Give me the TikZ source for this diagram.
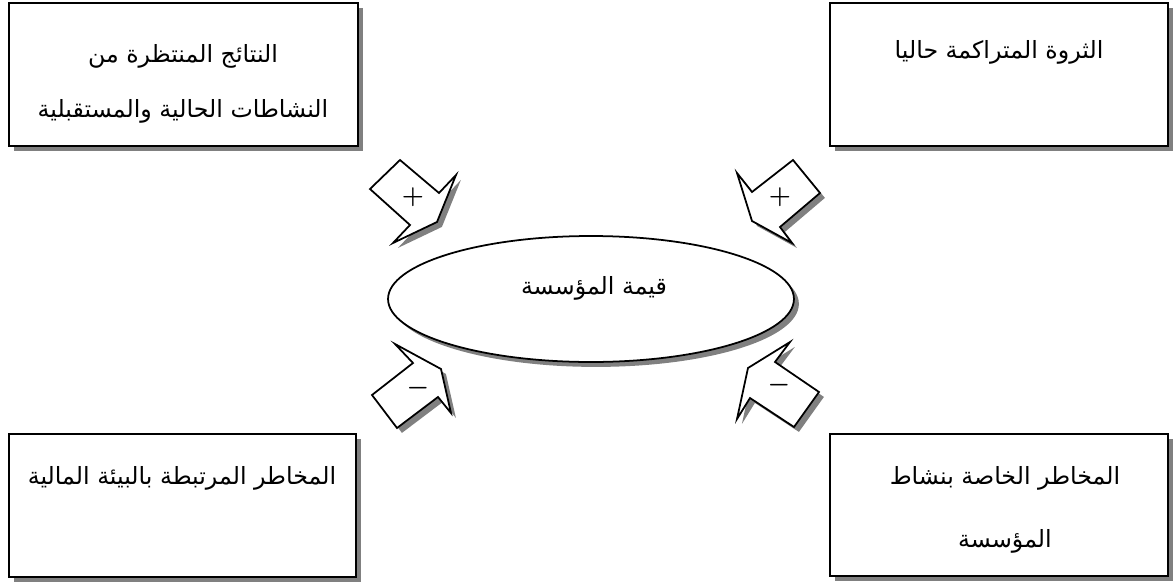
\documentclass[tikz,border=0pt]{standalone}
\usepackage{fontspec}
\usepackage{tikz}
\usetikzlibrary{shapes.geometric,shadows}
\newfontfamily\arabicfont[Script=Arabic]{DejaVu Sans}
\TeXXeTstate=1
\pgfdeclarelayer{edgelayer}
\pgfdeclarelayer{nodelayer}
\pgfsetlayers{edgelayer,nodelayer,main}
\tikzstyle{box}=[rectangle, draw=black, line width=1.3pt, fill=white, drop shadow={shadow xshift=3pt, shadow yshift=-3pt, fill=black!50, opacity=1}]
\tikzstyle{oval}=[ellipse, draw=black, line width=1pt, fill=white, inner sep=0pt, drop shadow={shadow xshift=2.8pt, shadow yshift=-2.8pt, fill=black!50, opacity=1}]
\tikzstyle{blockarrow}=[draw=black, line width=1pt, fill=white, line join=miter, drop shadow={shadow xshift=2.8pt, shadow yshift=-2.8pt, fill=black!50, opacity=1}]
\tikzstyle{txt}=[font=\arabicfont\fontsize{13.5}{31}\selectfont, align=center, inner sep=0pt]
\tikzstyle{sign}=[font=\Large\boldmath, inner sep=0pt]

\begin{document}
\begin{tikzpicture}[x=0.02cm, y=-0.02cm]
			\useasboundingbox (0, 0) rectangle (1174, 582);
			\begin{pgfonlayer}{edgelayer}
			\node [style=box, minimum width=6.98cm, minimum height=2.86cm] (0) at (183.5, 74.5) {};
			\node [style=box, minimum width=6.76cm, minimum height=2.86cm] (1) at (999, 74.5) {};
			\node [style=box, minimum width=6.94cm, minimum height=2.86cm] (2) at (182.5, 505.5) {};
			\node [style=box, minimum width=6.76cm, minimum height=2.84cm] (3) at (999, 505) {};
			\node [style=oval, minimum width=8.12cm, minimum height=2.52cm] (4) at (591, 299) {};
			\draw [style=blockarrow] (400, 160) -- (370, 189) -- (410, 225) -- (393, 243) -- (437, 222) -- (456, 175) -- (439, 193) -- cycle;
			\draw [style=blockarrow] (793, 160) -- (820, 193) -- (780, 227) -- (792, 243) -- (752, 221) -- (737, 173) -- (752, 192) -- cycle;
			\draw [style=blockarrow] (395, 344) -- (413, 363) -- (372, 395) -- (397, 428) -- (438, 397) -- (451, 413) -- (441, 369) -- cycle;
			\draw [style=blockarrow] (790, 342) -- (775, 362) -- (819, 392) -- (794, 427) -- (750, 398) -- (737, 419) -- (748, 368) -- cycle;
			\end{pgfonlayer}
			\begin{pgfonlayer}{nodelayer}
			\node [style=txt] (5) at (183, 84) {\beginR النتائج المنتظرة من\endR\\\beginR النشاطات الحالية والمستقبلية\endR};
			\node [style=txt] (6) at (999, 52) {\beginR الثروة المتراكمة حاليا\endR};
			\node [style=txt] (7) at (182, 478) {\beginR المخاطر المرتبطة بالبيئة المالية\endR};
			\node [style=txt] (8) at (1005, 510) {\beginR المخاطر الخاصة بنشاط\endR\\[5pt]\beginR المؤسسة\endR};
			\node [style=txt] (9) at (594, 288) {\beginR قيمة المؤسسة\endR};
			\node [style=sign] (10) at (413, 197) {$+$};
			\node [style=sign] (11) at (780, 197) {$+$};
			\node [style=sign] (12) at (418, 388) {$-$};
			\node [style=sign] (13) at (779, 385) {$-$};
			\end{pgfonlayer}
\end{tikzpicture}
\end{document}
